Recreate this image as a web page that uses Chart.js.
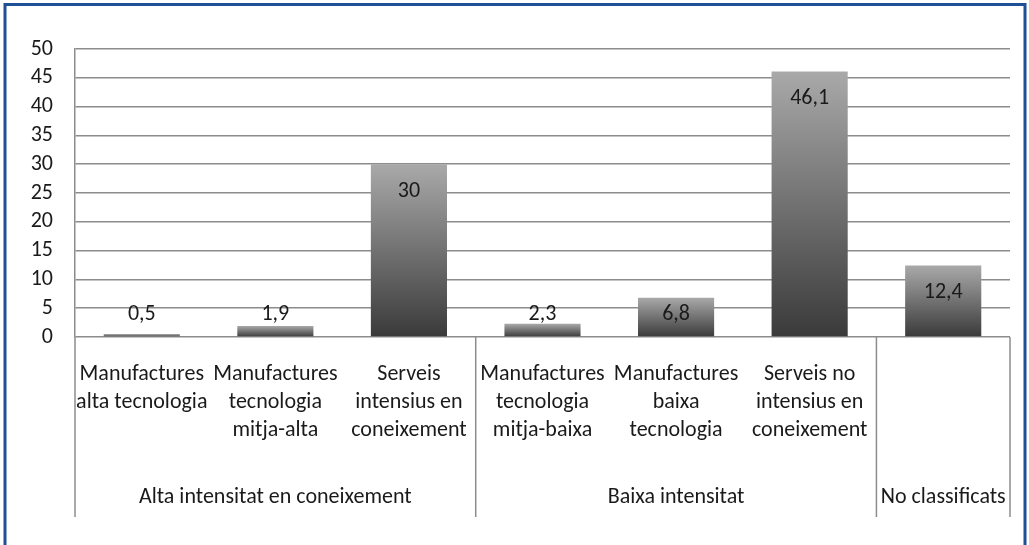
<!DOCTYPE html>
<html>
<head>
<meta charset="utf-8">
<script src="https://cdn.jsdelivr.net/npm/chart.js@4/dist/chart.umd.min.js"></script>
<style>
  html, body { margin: 0; padding: 0; background: #fff; }
  #wrap { width: 1029px; height: 545px; position: relative; }
</style>
</head>
<body>
<div id="wrap"><canvas id="chart" width="1029" height="545"></canvas></div>
<script>
// data
const categories = [
  ['Manufactures', 'alta tecnologia'],
  ['Manufactures', 'tecnologia', 'mitja-alta'],
  ['Serveis', 'intensius en', 'coneixement'],
  ['Manufactures', 'tecnologia', 'mitja-baixa'],
  ['Manufactures', 'baixa', 'tecnologia'],
  ['Serveis no', 'intensius en', 'coneixement'],
  ''
];
const values = [0.5, 1.9, 30, 2.3, 6.8, 46.1, 12.4];
const groupLabels = ['Alta intensitat en coneixement', 'Baixa intensitat', 'No classificats'];
const groupSizes = [3, 3, 1];
const yMax = 50;
const yStep = 5;

const FONT = 'Carlito, Lato, sans-serif';
const TEXT = '#1a1a1a';
const GRID = '#8c8c8c';
const AXIS_BOTTOM = 517; // where the group separators stop

function fmt(v) { return String(v).replace('.', ','); }

function barGradient(ctx) {
  const chart = ctx.chart;
  const y = chart.scales.y;
  if (!y || ctx.dataIndex == null) return '#666';
  const top = y.getPixelForValue(values[ctx.dataIndex]);
  const base = y.getPixelForValue(0);
  if (!isFinite(top) || !isFinite(base) || top === base) return '#666';
  const g = chart.ctx.createLinearGradient(0, top, 0, base);
  g.addColorStop(0, '#a9a9a9');
  g.addColorStop(1, '#3a3a3a');
  return g;
}

// white page + blue frame
const framePlugin = {
  id: 'frame',
  beforeDraw(chart) {
    const c = chart.ctx;
    c.save();
    c.fillStyle = '#fff';
    c.fillRect(0, 0, chart.width, chart.height);
    c.strokeStyle = '#1f4f96';
    c.lineWidth = 3;
    c.beginPath();
    c.moveTo(5, chart.height + 5);
    c.lineTo(5, 4.5);
    c.lineTo(chart.width - 4, 4.5);
    c.lineTo(chart.width - 4, chart.height + 5);
    c.stroke();
    c.restore();
  }
};

// group labels + separators under the category labels
const groupPlugin = {
  id: 'groups',
  afterDraw(chart) {
    const x = chart.scales.x;
    const y = chart.scales.y;
    const c = chart.ctx;
    const zero = y.getPixelForValue(0);
    const edge = i => {
      if (i <= 0) return x.left;
      if (i >= categories.length) return x.right;
      return (x.getPixelForTick(i - 1) + x.getPixelForTick(i)) / 2;
    };
    c.save();
    c.strokeStyle = GRID;
    c.lineWidth = 1.5;
    // left axis goes on down
    c.beginPath();
    c.moveTo(x.left, zero);
    c.lineTo(x.left, AXIS_BOTTOM);
    c.stroke();
    c.font = '22px ' + FONT;
    c.fillStyle = TEXT;
    c.textAlign = 'center';
    c.textBaseline = 'middle';
    let start = 0;
    groupLabels.forEach((lab, gi) => {
      const end = start + groupSizes[gi];
      const x0 = edge(start), x1 = edge(end);
      c.beginPath();
      c.moveTo(x1, zero);
      c.lineTo(x1, AXIS_BOTTOM);
      c.stroke();
      c.fillText(lab, (x0 + x1) / 2, 497);
      start = end;
    });
    c.restore();
  }
};

// value labels near the top of each bar
const valuePlugin = {
  id: 'values',
  afterDatasetsDraw(chart) {
    const c = chart.ctx;
    const meta = chart.getDatasetMeta(0);
    const zero = chart.scales.y.getPixelForValue(0);
    c.save();
    c.font = '22px ' + FONT;
    c.fillStyle = TEXT;
    c.textAlign = 'center';
    c.textBaseline = 'middle';
    meta.data.forEach((bar, i) => {
      const ty = Math.min(bar.y + 27, zero - 23);
      c.fillText(fmt(values[i]), bar.x, ty);
    });
    c.restore();
  }
};

new Chart(document.getElementById('chart'), {
  type: 'bar',
  data: {
    labels: categories,
    datasets: [{
      data: values,
      backgroundColor: barGradient,
      borderWidth: 0,
      categoryPercentage: 1,
      barPercentage: 0.57
    }]
  },
  options: {
    responsive: false,
    animation: false,
    layout: { padding: { top: 49, right: 19, left: 0, bottom: 0 } },
    plugins: {
      legend: { display: false },
      tooltip: { enabled: false }
    },
    scales: {
      x: {
        grid: { display: false },
        border: { display: false },
        ticks: {
          autoSkip: false,
          maxRotation: 0,
          minRotation: 0,
          padding: 16,
          color: TEXT,
          font: { family: FONT, size: 22, lineHeight: 1.27 }
        },
        afterFit(scale) { scale.height = 545 - 337; }
      },
      y: {
        min: 0,
        max: yMax,
        ticks: {
          stepSize: yStep,
          autoSkip: false,
          padding: 22,
          color: TEXT,
          font: { family: FONT, size: 22 }
        },
        grid: { color: GRID, lineWidth: 1.5, drawTicks: false },
        border: { color: GRID, width: 1.5 },
        afterFit(scale) { scale.width = 75; }
      }
    }
  },
  plugins: [framePlugin, groupPlugin, valuePlugin]
});
</script>
</body>
</html>
